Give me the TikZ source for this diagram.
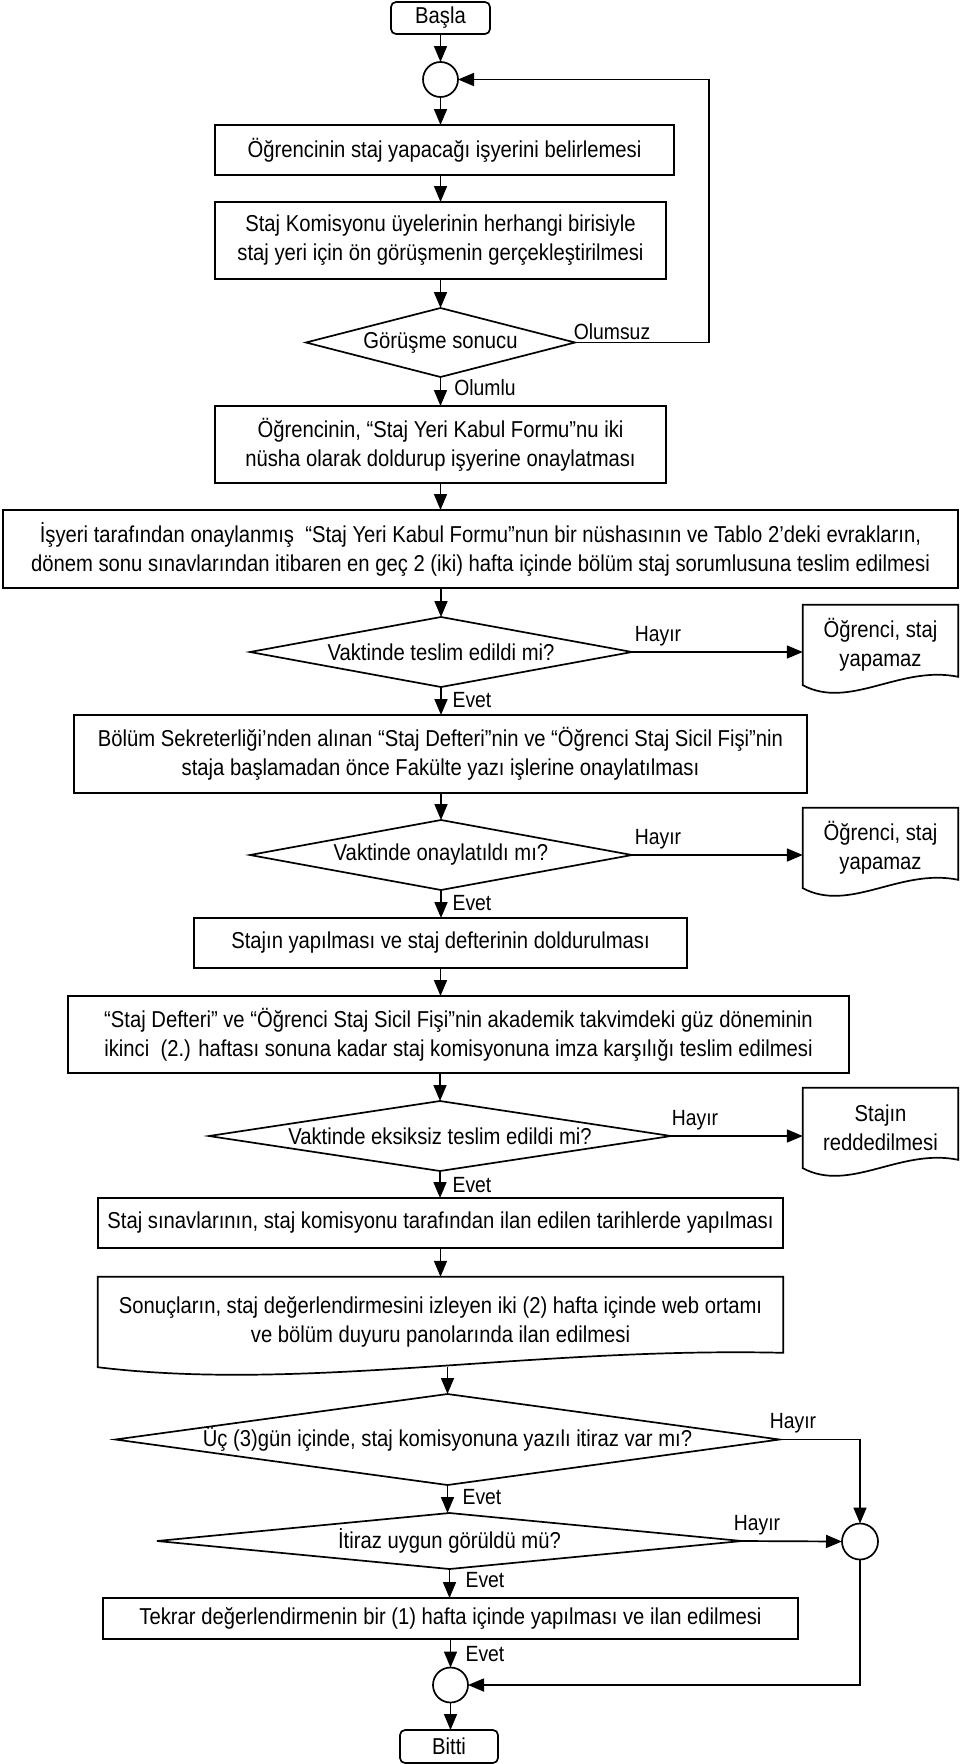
\documentclass[tikz,border=0pt]{standalone}
\usepackage{fontspec}
\setmainfont{Liberation Sans}[FakeStretch=0.88]
\usetikzlibrary{shapes.geometric,arrows.meta,calc}
\newcommand\fs{\fontsize{23}{29}\selectfont}
\newcommand\fl{\fontsize{22}{27}\selectfont}
\tikzset{
  base/.style={draw, line width=1.7pt, font=\fs, inner sep=0pt, outer sep=0pt},
  box/.style={base, rectangle, align=center},
  term/.style={box, rounded corners=5pt},
  dec/.style={base, diamond},
  dtext/.style={font=\fs, inner sep=0pt},
  junc/.style={base, circle, minimum size=35pt},
  docn/.style={rectangle, font=\fs, align=center, inner sep=0pt, minimum width=155pt, minimum height=80pt},
  outline/.style={line width=1.7pt},
  arr/.style={line width=1.7pt, -{Triangle[length=16pt,width=13pt]}},
  lbl/.style={font=\fl, inner sep=0pt}
}
\begin{document}
\begin{tikzpicture}[x=1pt, y=-1pt]
\useasboundingbox (0,0) rectangle (960,1764);

\node[term, minimum width=99pt, minimum height=32pt] (start) at (440.5,18) {Başla};
\node[junc] (c1) at (440.5,79.5) {};
\node[box, minimum width=459pt, minimum height=50pt] (b1) at (444.5,150) {Öğrencinin staj yapacağı işyerini belirlemesi};
\node[box, minimum width=451pt, minimum height=77pt] (b2) at (440.5,240.5) {Staj Komisyonu üyelerinin herhangi birisiyle\\staj yeri için ön görüşmenin gerçekleştirilmesi};
\node[dec, minimum width=269pt, minimum height=69pt, label={[dtext]center:{Görüşme sonucu}}] (d1) at (440.5,342.5) {};
\node[box, minimum width=451pt, minimum height=77pt] (b3) at (440.5,444.5) {Öğrencinin, “Staj Yeri Kabul Formu”nu iki\\nüsha olarak doldurup işyerine onaylatması};
\node[box, minimum width=955pt, minimum height=78pt] (b4) at (480.5,549) {İşyeri tarafından onaylanmış~ “Staj Yeri Kabul Formu”nun bir nüshasının ve Tablo 2’deki evrakların,\\dönem sonu sınavlarından itibaren en geç 2 (iki) hafta içinde bölüm staj sorumlusuna teslim edilmesi};
\node[dec, minimum width=382pt, minimum height=70pt, label={[dtext]center:{Vaktinde teslim edildi mi?}}] (d2) at (441,652) {};
\node[docn] (doc1) at (880.5,645) {Öğrenci, staj\\yapamaz};
\node[box, minimum width=733pt, minimum height=78pt] (b5) at (440.5,754) {Bölüm Sekreterliği’nden alınan “Staj Defteri”nin ve “Öğrenci Staj Sicil Fişi”nin\\staja başlamadan önce Fakülte yazı işlerine onaylatılması};
\node[dec, minimum width=382pt, minimum height=70pt, label={[dtext]center:{Vaktinde onaylatıldı mı?}}] (d3) at (441,855) {};
\node[docn] (doc2) at (880.5,848) {Öğrenci, staj\\yapamaz};
\node[box, minimum width=493pt, minimum height=50pt] (b6) at (440.5,943) {Stajın yapılması ve staj defterinin doldurulması};
\node[box, minimum width=781pt, minimum height=77pt] (b7) at (458.5,1034.5) {“Staj Defteri” ve “Öğrenci Staj Sicil Fişi”nin akademik takvimdeki güz döneminin\\ikinci~ (2.) haftası sonuna kadar staj komisyonuna imza karşılığı teslim edilmesi};
\node[dec, minimum width=462pt, minimum height=70pt, label={[dtext]center:{Vaktinde eksiksiz teslim edildi mi?}}] (d4) at (440,1136) {};
\node[docn] (doc3) at (880.5,1128) {Stajın\\reddedilmesi};
\node[box, minimum width=685pt, minimum height=50pt] (b8) at (440.5,1223) {Staj sınavlarının, staj komisyonu tarafından ilan edilen tarihlerde yapılması};
\node[docn, minimum width=685pt, minimum height=90pt] (b9) at (440.5,1322) {Sonuçların, staj değerlendirmesini izleyen iki (2) hafta içinde web ortamı\\ve bölüm duyuru panolarında ilan edilmesi};
\node[dec, minimum width=664pt, minimum height=91pt, label={[dtext]center:{Üç (3)gün içinde, staj komisyonuna yazılı itiraz var mı?}}] (d5) at (447.5,1439.5) {};
\node[dec, minimum width=585pt, minimum height=56pt, label={[dtext]center:{İtiraz uygun görüldü mü?}}] (d6) at (449.5,1541) {};
\node[junc, minimum size=36pt] (c2) at (860,1541.5) {};
\node[box, minimum width=695pt, minimum height=41pt] (b10) at (450.5,1618.5) {Tekrar değerlendirmenin bir (1) hafta içinde yapılması ve ilan edilmesi};
\node[junc] (c3) at (450.5,1685) {};
\node[term, minimum width=98pt, minimum height=33pt] (end) at (449,1746.5) {Bitti};

% document outlines
\draw[outline] (doc1.south west) -- (doc1.north west) -- (doc1.north east) -- ++(0,72) .. controls +(-58,-12) and +(47,25) .. (doc1.south west) -- cycle;
\draw[outline] (doc2.south west) -- (doc2.north west) -- (doc2.north east) -- ++(0,72) .. controls +(-58,-12) and +(47,25) .. (doc2.south west) -- cycle;
\draw[outline] (doc3.south west) -- (doc3.north west) -- (doc3.north east) -- ++(0,72) .. controls +(-58,-12) and +(47,25) .. (doc3.south west) -- cycle;
\draw[outline] (b9.south west) -- (b9.north west) -- (b9.north east) -- ++(0,76) .. controls +(-253,-6) and +(206,25) .. (b9.south west) -- cycle;

% connectors
\coordinate (loopR) at (709,342.5);
\draw[arr] (start.south) -- (c1.north);
\draw[arr] (c1.south) -- (c1.south |- b1.north);
\draw[arr] (b2.north |- b1.south) -- (b2.north);
\draw[arr] (b2.south) -- (d1.north);
\draw[arr] (d1.east) -- (loopR) |- (c1.east);
\draw[arr] (d1.south) -- (b3.north);
\draw[arr] (b3.south) -- (b3.south |- b4.north);
\draw[arr] (d2.north |- b4.south) -- (d2.north);
\draw[arr] (d2.east) -- (d2.east -| doc1.west);
\draw[arr] (d2.south) -- (d2.south |- b5.north);
\draw[arr] (d3.north |- b5.south) -- (d3.north);
\draw[arr] (d3.east) -- (d3.east -| doc2.west);
\draw[arr] (d3.south) -- (d3.south |- b6.north);
\draw[arr] (b6.south) -- (b6.south |- b7.north);
\draw[arr] (d4.north |- b7.south) -- (d4.north);
\draw[arr] (d4.east) -- (d4.east -| doc3.west);
\draw[arr] (d4.south) -- (d4.south |- b8.north);
\draw[arr] (b8.south) -- (b9.north);
\draw[arr] (d5.north |- b9.south west) -- (d5.north);
\draw[arr] (d5.east) -| (c2.north);
\draw[arr] (d5.south) -- (d5.south |- d6.north);
\draw[arr] (d6.east) -- (c2.west);
\draw[arr] (d6.south) -- (d6.south |- b10.north);
\draw[arr] (c3.north |- b10.south) -- (c3.north);
\draw[arr] (c2.south) |- (c3.east);
\draw[arr] (c3.south) -- (c3.south |- end.north);

% labels
\node[lbl] (lOlumsuz) at (612,332) {Olumsuz};
\node[lbl] (lOlumlu) at (485,388) {Olumlu};
\node[lbl] (lH1) at (658,636) {Hayır};
\node[lbl] (lH2) at (658,839) {Hayır};
\node[lbl] (lH3) at (695,1120) {Hayır};
\node[lbl] (lH4) at (793,1423) {Hayır};
\node[lbl] (lH5) at (757,1525) {Hayır};
\node[lbl] (lE1) at (472,700) {Evet};
\node[lbl] (lE2) at (472,903) {Evet};
\node[lbl] (lE3) at (472,1185) {Evet};
\node[lbl] (lE4) at (482,1497) {Evet};
\node[lbl] (lE5) at (485,1580) {Evet};
\node[lbl] (lE6) at (485,1654) {Evet};
\end{tikzpicture}
\end{document}
